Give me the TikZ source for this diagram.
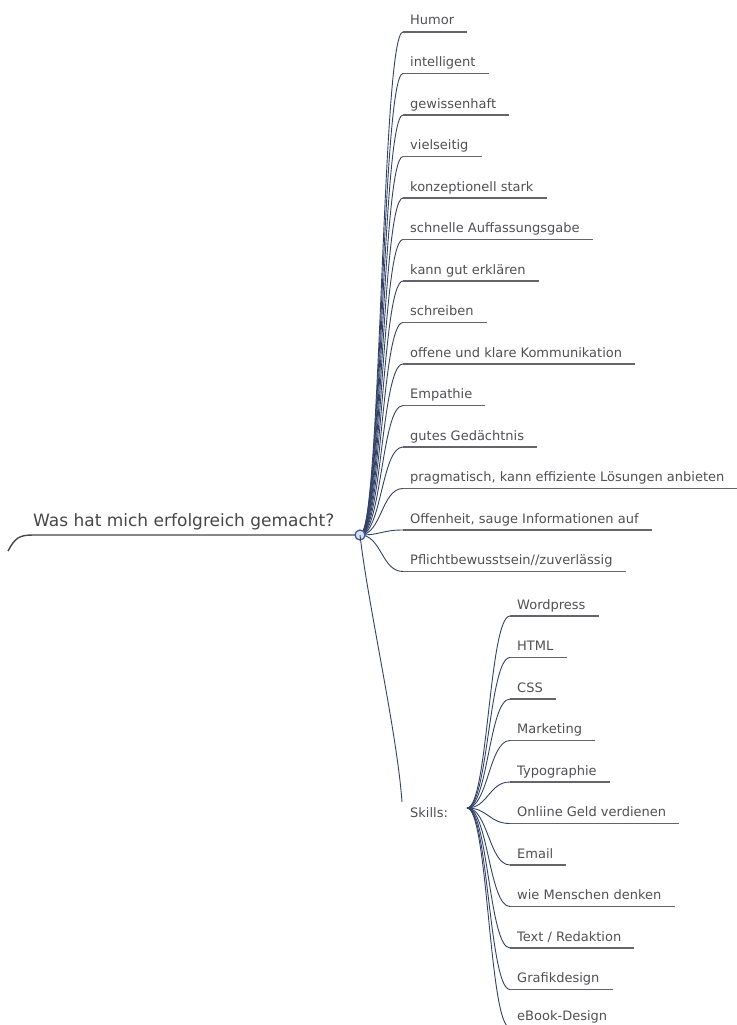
\documentclass[tikz,border=0pt]{standalone}
\usepackage{fontspec}
\setmainfont{DejaVu Sans}
\usetikzlibrary{calc}
\pgfdeclarelayer{background}
\pgfsetlayers{background,main}
\definecolor{linkblue}{RGB}{52,66,104}
\definecolor{ulgray}{RGB}{100,100,106}
\definecolor{txtgray}{RGB}{80,80,84}
\definecolor{hubfill}{RGB}{214,228,246}
\definecolor{hubdraw}{RGB}{62,92,150}

\begin{document}
\begin{tikzpicture}[
  x=1pt, y=-1pt,
  font=\fontsize{13}{15}\selectfont,
  % Estilos de nodos
  leaf/.style={anchor=base west, inner sep=0pt, text=txtgray},
  rootlabel/.style={anchor=base west, inner sep=0pt, text=black!72, font=\fontsize{17}{20}\selectfont},
  hubdot/.style={circle, draw=hubdraw, fill=hubfill, line width=1.3pt, minimum size=10pt, inner sep=0pt},
  % Estilos de lineas
  branch/.style={draw=linkblue, line width=0.9pt},
  uline/.style={draw=ulgray, line width=1.4pt},
  rootline/.style={draw=black!72, line width=1.4pt}
]
  \useasboundingbox (0,0) rectangle (736,1025);

  % ==========================================
  % ROOT AND HUB
  % ==========================================
  \node[hubdot] (hub) at (360,535) {};
  \node[rootlabel] (root) at (33,526) {Was hat mich erfolgreich gemacht?};
  \coordinate (rootin) at (8,551);
  \begin{pgfonlayer}{background}
    \draw[rootline] (rootin) .. controls +(7,-13) and +(-14,0) .. ($(root.base west)+(0,9)$) -- (hub.center);
  \end{pgfonlayer}

  % ==========================================
  % PERSONAL STRENGTHS
  % ==========================================
  \node[leaf] (humor) at (410,25) {Humor};
  \node[leaf] (intel) at (410,66.5) {intelligent};
  \node[leaf] (gewiss) at (410,108) {gewissenhaft};
  \node[leaf] (vielseit) at (410,149.5) {vielseitig};
  \node[leaf] (konzept) at (410,191) {konzeptionell stark};
  \node[leaf] (auffass) at (410,232.5) {schnelle Auffassungsgabe};
  \node[leaf] (erklaer) at (410,274) {kann gut erklären};
  \node[leaf] (schreib) at (410,315.5) {schreiben};
  \node[leaf] (kommun) at (410,357) {offene und klare Kommunikation};
  \node[leaf] (empath) at (410,398.5) {Empathie};
  \node[leaf] (gedaecht) at (410,440) {gutes Gedächtnis};
  \node[leaf] (pragma) at (410,481.5) {pragmatisch, kann effiziente Lösungen anbieten};
  \node[leaf] (offen) at (410,523) {Offenheit, sauge Informationen auf};
  \node[leaf] (pflicht) at (410,564.5) {Pflichtbewusstsein//zuverlässig};

  % --- underlines ---
  \draw[uline] ($(humor.base west)+(-7,7)$) -- ($(humor.base east)+(13,7)$);
  \draw[uline] ($(intel.base west)+(-7,7)$) -- ($(intel.base east)+(13,7)$);
  \draw[uline] ($(gewiss.base west)+(-7,7)$) -- ($(gewiss.base east)+(13,7)$);
  \draw[uline] ($(vielseit.base west)+(-7,7)$) -- ($(vielseit.base east)+(13,7)$);
  \draw[uline] ($(konzept.base west)+(-7,7)$) -- ($(konzept.base east)+(13,7)$);
  \draw[uline] ($(auffass.base west)+(-7,7)$) -- ($(auffass.base east)+(13,7)$);
  \draw[uline] ($(erklaer.base west)+(-7,7)$) -- ($(erklaer.base east)+(13,7)$);
  \draw[uline] ($(schreib.base west)+(-7,7)$) -- ($(schreib.base east)+(13,7)$);
  \draw[uline] ($(kommun.base west)+(-7,7)$) -- ($(kommun.base east)+(13,7)$);
  \draw[uline] ($(empath.base west)+(-7,7)$) -- ($(empath.base east)+(13,7)$);
  \draw[uline] ($(gedaecht.base west)+(-7,7)$) -- ($(gedaecht.base east)+(13,7)$);
  \draw[uline] ($(pragma.base west)+(-7,7)$) -- ($(pragma.base east)+(13,7)$);
  \draw[uline] ($(offen.base west)+(-7,7)$) -- ($(offen.base east)+(13,7)$);
  \draw[uline] ($(pflicht.base west)+(-7,7)$) -- ($(pflicht.base east)+(13,7)$);

  % --- branches from the hub ---
  \begin{pgfonlayer}{background}
    \draw[branch] (hub.center) .. controls +(21.5,0) and +(-21.5,0) .. ($(humor.base west)+(-7,7)$);
    \draw[branch] (hub.center) .. controls +(21.5,0) and +(-21.5,0) .. ($(intel.base west)+(-7,7)$);
    \draw[branch] (hub.center) .. controls +(21.5,0) and +(-21.5,0) .. ($(gewiss.base west)+(-7,7)$);
    \draw[branch] (hub.center) .. controls +(21.5,0) and +(-21.5,0) .. ($(vielseit.base west)+(-7,7)$);
    \draw[branch] (hub.center) .. controls +(21.5,0) and +(-21.5,0) .. ($(konzept.base west)+(-7,7)$);
    \draw[branch] (hub.center) .. controls +(21.5,0) and +(-21.5,0) .. ($(auffass.base west)+(-7,7)$);
    \draw[branch] (hub.center) .. controls +(21.5,0) and +(-21.5,0) .. ($(erklaer.base west)+(-7,7)$);
    \draw[branch] (hub.center) .. controls +(21.5,0) and +(-21.5,0) .. ($(schreib.base west)+(-7,7)$);
    \draw[branch] (hub.center) .. controls +(21.5,0) and +(-21.5,0) .. ($(kommun.base west)+(-7,7)$);
    \draw[branch] (hub.center) .. controls +(21.5,0) and +(-21.5,0) .. ($(empath.base west)+(-7,7)$);
    \draw[branch] (hub.center) .. controls +(21.5,0) and +(-21.5,0) .. ($(gedaecht.base west)+(-7,7)$);
    \draw[branch] (hub.center) .. controls +(21.5,0) and +(-21.5,0) .. ($(pragma.base west)+(-7,7)$);
    \draw[branch] (hub.center) .. controls +(21.5,0) and +(-21.5,0) .. ($(offen.base west)+(-7,7)$);
    \draw[branch] (hub.center) .. controls +(21.5,0) and +(-21.5,0) .. ($(pflicht.base west)+(-7,7)$);
  \end{pgfonlayer}

  % ==========================================
  % SKILLS
  % ==========================================
  \node[leaf] (skills) at (410,817) {Skills:};
  \coordinate (skhub) at (467,808);
  \draw[branch] (hub.center) .. controls +(8,70) and +(-5,-70) .. ($(skills.base west)+(-8,-15)$);

  \node[leaf] (wordp) at (517,609) {Wordpress};
  \node[leaf] (html) at (517,650.5) {HTML};
  \node[leaf] (css) at (517,692) {CSS};
  \node[leaf] (market) at (517,733.5) {Marketing};
  \node[leaf] (typo) at (517,775) {Typographie};
  \node[leaf] (geld) at (517,816.5) {Onliine Geld verdienen};
  \node[leaf] (email) at (517,858) {Email};
  \node[leaf] (menschen) at (517,899.5) {wie Menschen denken};
  \node[leaf] (redakt) at (517,941) {Text / Redaktion};
  \node[leaf] (grafik) at (517,982.5) {Grafikdesign};
  \node[leaf] (ebook) at (517,1020.5) {eBook-Design};

  % --- underlines ---
  \draw[uline] ($(wordp.base west)+(-7,7)$) -- ($(wordp.base east)+(13,7)$);
  \draw[uline] ($(html.base west)+(-7,7)$) -- ($(html.base east)+(13,7)$);
  \draw[uline] ($(css.base west)+(-7,7)$) -- ($(css.base east)+(13,7)$);
  \draw[uline] ($(market.base west)+(-7,7)$) -- ($(market.base east)+(13,7)$);
  \draw[uline] ($(typo.base west)+(-7,7)$) -- ($(typo.base east)+(13,7)$);
  \draw[uline] ($(geld.base west)+(-7,7)$) -- ($(geld.base east)+(13,7)$);
  \draw[uline] ($(email.base west)+(-7,7)$) -- ($(email.base east)+(13,7)$);
  \draw[uline] ($(menschen.base west)+(-7,7)$) -- ($(menschen.base east)+(13,7)$);
  \draw[uline] ($(redakt.base west)+(-7,7)$) -- ($(redakt.base east)+(13,7)$);
  \draw[uline] ($(grafik.base west)+(-7,7)$) -- ($(grafik.base east)+(13,7)$);
  \draw[uline] ($(ebook.base west)+(-7,7)$) -- ($(ebook.base east)+(13,7)$);

  % --- branches from the skills node ---
  \draw[branch] (skhub) .. controls +(21,0) and +(-21,0) .. ($(wordp.base west)+(-7,7)$);
  \draw[branch] (skhub) .. controls +(21,0) and +(-21,0) .. ($(html.base west)+(-7,7)$);
  \draw[branch] (skhub) .. controls +(21,0) and +(-21,0) .. ($(css.base west)+(-7,7)$);
  \draw[branch] (skhub) .. controls +(21,0) and +(-21,0) .. ($(market.base west)+(-7,7)$);
  \draw[branch] (skhub) .. controls +(21,0) and +(-21,0) .. ($(typo.base west)+(-7,7)$);
  \draw[branch] (skhub) .. controls +(21,0) and +(-21,0) .. ($(geld.base west)+(-7,7)$);
  \draw[branch] (skhub) .. controls +(21,0) and +(-21,0) .. ($(email.base west)+(-7,7)$);
  \draw[branch] (skhub) .. controls +(21,0) and +(-21,0) .. ($(menschen.base west)+(-7,7)$);
  \draw[branch] (skhub) .. controls +(21,0) and +(-21,0) .. ($(redakt.base west)+(-7,7)$);
  \draw[branch] (skhub) .. controls +(21,0) and +(-21,0) .. ($(grafik.base west)+(-7,7)$);
  \draw[branch] (skhub) .. controls +(21,0) and +(-21,0) .. ($(ebook.base west)+(-7,7)$);

\end{tikzpicture}
\end{document}
